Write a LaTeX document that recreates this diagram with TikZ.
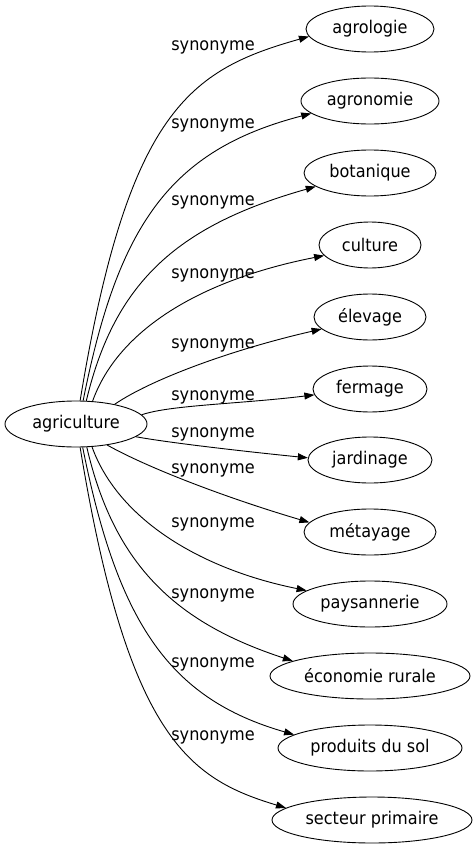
\documentclass[tikz,border=0pt]{standalone}
\usepackage{fontspec}
\setmainfont{DejaVu Sans}[FakeStretch=0.92]
\usetikzlibrary{arrows.meta,shapes.geometric}
\tikzset{
  term/.style={draw, ellipse, line width=0.9pt, inner sep=0pt, minimum height=46pt, font=\fontsize{17.5}{20}\selectfont},
  syn/.style={font=\fontsize{17.5}{20}\selectfont, anchor=base, inner sep=0pt},
  rel/.style={line width=0.9pt, -{Triangle[length=10pt,width=7pt]}}
}
\begin{document}
\begin{tikzpicture}[x=1pt,y=-1pt]
\useasboundingbox (0,0) rectangle (474,851);
\node[term, minimum width=142pt] (agri) at (76,424) {agriculture};
\node[term, minimum width=128pt] (t1) at (370,29) {agrologie};
\node[term, minimum width=138pt] (t2) at (370,101) {agronomie};
\node[term, minimum width=132pt] (t3) at (370,173) {botanique};
\node[term, minimum width=102pt] (t4) at (370,245) {culture};
\node[term, minimum width=112pt] (t5) at (370,317) {élevage};
\node[term, minimum width=114pt] (t6) at (370,389) {fermage};
\node[term, minimum width=124pt] (t7) at (370,460) {jardinage};
\node[term, minimum width=132pt] (t8) at (370,532) {métayage};
\node[term, minimum width=154pt] (t9) at (370,604) {paysannerie};
\node[term, minimum width=200pt] (t10) at (370,676) {économie rurale};
\node[term, minimum width=184pt] (t11) at (370,748) {produits du sol};
\node[term, minimum width=200pt] (t12) at (372,820) {secteur primaire};

\draw[rel] (agri.80) .. controls (128,110) and (190,70) .. (t1.187);
\draw[rel] (agri.73) .. controls (118,225) and (170,150) .. (t2.192);
\draw[rel] (agri.66) .. controls (115,280) and (180,225) .. (t3.194);
\draw[rel] (agri.54) .. controls (118,330) and (200,280) .. (t4.193);
\draw[rel] (agri.27) .. controls (150,380) and (230,350) .. (t5.194);
\draw[rel] (agri.8) .. controls (170,405) and (240,404) .. (t6.186);
\draw[rel] (agri.-12) .. controls (170,443) and (250,452) .. (t7.178);
\draw[rel] (agri.-34) .. controls (150,469) and (230,499) .. (t8.171);
\draw[rel] (agri.-55) .. controls (118,519) and (200,569) .. (t9.168);
\draw[rel] (agri.-65) .. controls (115,569) and (180,624) .. (t10.169);
\draw[rel] (agri.-74) .. controls (118,624) and (170,699) .. (t11.170);
\draw[rel] (agri.-80) .. controls (128,739) and (190,779) .. (t12.172);

\node[syn] (l1) at (213,51) {synonyme};
\node[syn] (l2) at (213,128) {synonyme};
\node[syn] (l3) at (213,205) {synonyme};
\node[syn] (l4) at (213,278) {synonyme};
\node[syn] (l5) at (213,348) {synonyme};
\node[syn] (l6) at (213,400) {synonyme};
\node[syn] (l7) at (213,437) {synonyme};
\node[syn] (l8) at (213,473) {synonyme};
\node[syn] (l9) at (213,527) {synonyme};
\node[syn] (l10) at (213,598) {synonyme};
\node[syn] (l11) at (213,667) {synonyme};
\node[syn] (l12) at (213,740) {synonyme};
\end{tikzpicture}
\end{document}
